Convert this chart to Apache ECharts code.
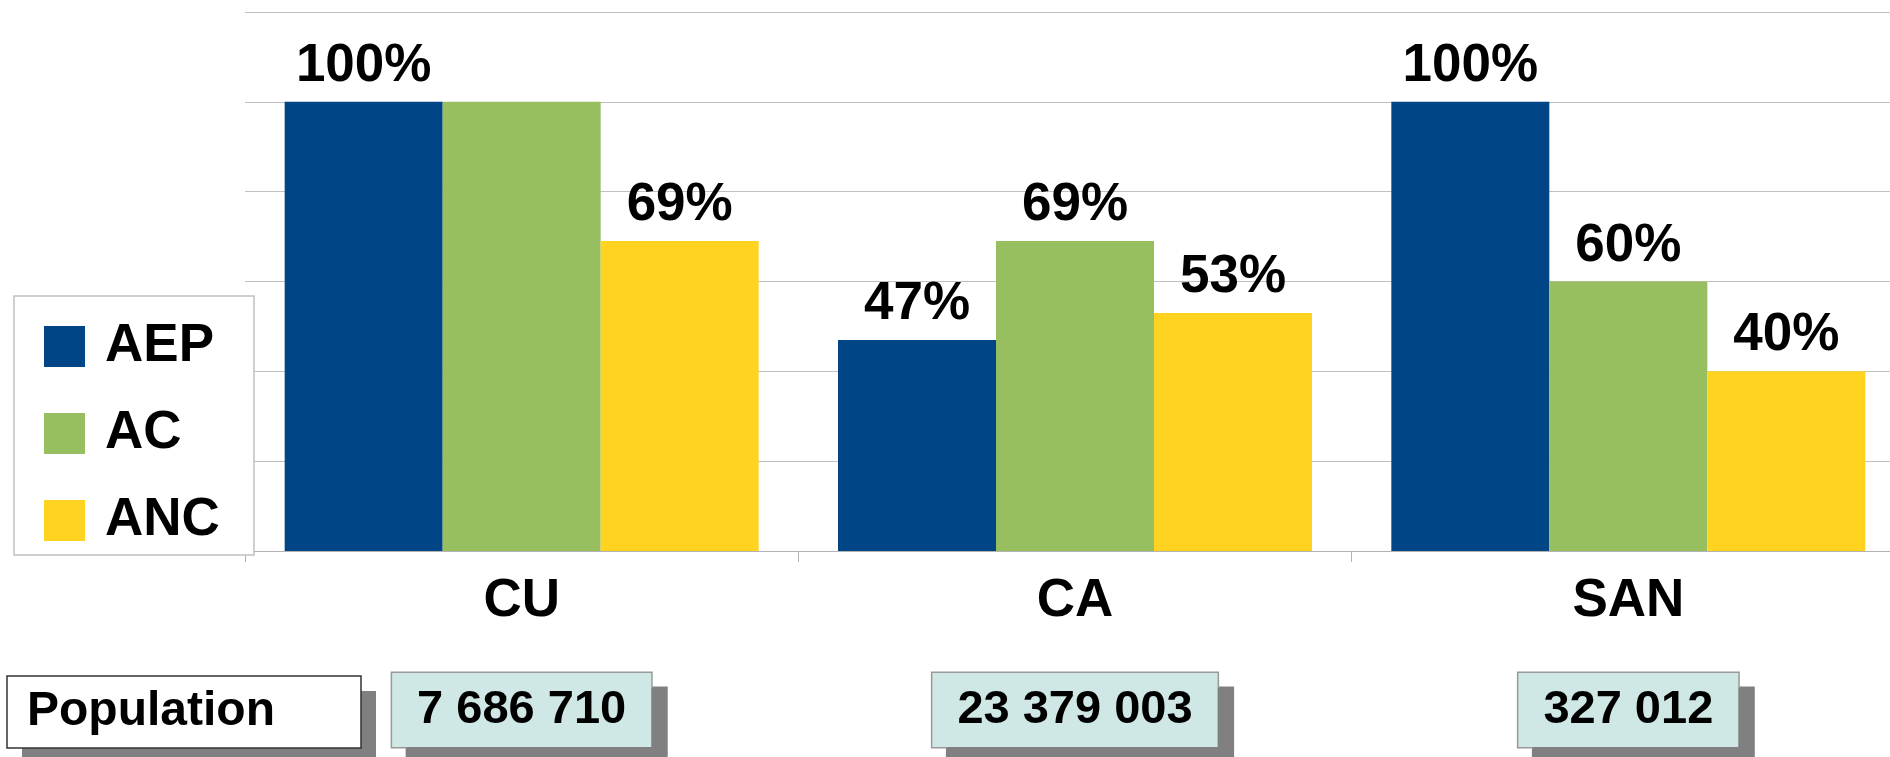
<!DOCTYPE html>
<html>
<head>
<meta charset="utf-8">
<script src="https://cdn.jsdelivr.net/npm/echarts@6/dist/echarts.min.js"></script>
<style>
  html, body { margin: 0; padding: 0; background: #fff; overflow: hidden; }
  /* the plot runs a little past the right edge of the picture */
  #chart { width: 1905px; height: 757px; }
</style>
</head>
<body>
<div id="chart"></div>
<script>
var categories = ['CU', 'CA', 'SAN'];
var populations = ['7 686 710', '23 379 003', '327 012'];
var aepValues = [100, 47, 100];
var acValues = [100, 69, 60];
var ancValues = [69, 53, 40];
var yTicks = [0, 20, 40, 60, 80, 100, 120];

var font = "'Liberation Sans', Arial, sans-serif";
var labelStyle = {
    show: true,
    position: 'top',
    distance: 9,
    formatter: '{c}%',
    color: '#000',
    fontFamily: font,
    fontWeight: 'bold',
    fontSize: 53
};

var myChart = echarts.init(document.getElementById('chart'));
var option = {
    animation: false,
    grid: {
        left: 245,
        top: 12,
        right: 0,
        bottom: 206,
        containLabel: false
    },
    legend: {
        data: ['AEP', 'AC', 'ANC'],
        orient: 'vertical',
        left: 44,
        top: 320,
        padding: 0,
        itemGap: 34,
        itemWidth: 41,
        itemHeight: 41,
        icon: 'rect',
        z: 10,
        textStyle: {
            color: '#000',
            fontFamily: font,
            fontWeight: 'bold',
            fontSize: 53,
            lineHeight: 41,
            padding: [0, 0, 0, 15]
        }
    },
    xAxis: [{
        type: 'category',
        data: categories,
        axisLine: { lineStyle: { color: '#b3b3b3', width: 1 } },
        axisTick: { show: true, length: 11, lineStyle: { color: '#b3b3b3' } },
        axisLabel: {
            margin: 24,
            color: '#000',
            fontFamily: font,
            fontWeight: 'bold',
            fontSize: 53
        }
    }, {
        type: 'category',
        data: populations,
        position: 'bottom',
        axisLine: { show: false },
        axisTick: { show: false },
        axisLabel: {
            margin: 122,
            color: '#000',
            fontFamily: font,
            fontWeight: 'bold',
            fontSize: 47,
            lineHeight: 50,
            padding: [12, 25],
            backgroundColor: '#cfe7e5',
            borderColor: '#999',
            borderWidth: 1.5,
            shadowColor: '#808080',
            shadowBlur: 0,
            shadowOffsetX: 15,
            shadowOffsetY: 15
        }
    }],
    yAxis: {
        type: 'value',
        min: yTicks[0],
        max: yTicks[yTicks.length - 1],
        interval: 20,
        axisLine: { show: false },
        axisTick: { show: false },
        axisLabel: { show: false },
        splitLine: { lineStyle: { color: '#c0c0c0', width: 1 } }
    },
    graphic: [{
        type: 'rect',
        z: 3,
        shape: { x: 14, y: 296, width: 240, height: 259 },
        style: { fill: '#fff', stroke: '#c0c0c0', lineWidth: 1.5 }
    }, {
        type: 'rect',
        z: 3,
        shape: { x: 22, y: 691, width: 354, height: 72 },
        style: { fill: '#808080' }
    }, {
        type: 'rect',
        z: 4,
        shape: { x: 7, y: 676, width: 354, height: 72 },
        style: { fill: '#fff', stroke: '#333', lineWidth: 1.5 }
    }, {
        type: 'text',
        z: 5,
        x: 27,
        y: 712,
        style: {
            text: 'Population',
            fill: '#000',
            font: 'bold 48px ' + font,
            verticalAlign: 'middle'
        }
    }],
    series: [{
        name: 'AEP',
        type: 'bar',
        barWidth: 158,
        barGap: '0%',
        itemStyle: { color: '#004586' },
        label: labelStyle,
        data: aepValues
    }, {
        name: 'AC',
        type: 'bar',
        barWidth: 158,
        barGap: '0%',
        itemStyle: { color: '#97be5f' },
        label: labelStyle,
        // the CU label is not shown in the original
        data: acValues.map(function (v, i) {
            return i === 0 ? { value: v, label: { show: false } } : v;
        })
    }, {
        name: 'ANC',
        type: 'bar',
        barWidth: 158,
        barGap: '0%',
        itemStyle: { color: '#ffd320' },
        label: labelStyle,
        data: ancValues
    }]
};
myChart.setOption(option);
</script>
</body>
</html>
